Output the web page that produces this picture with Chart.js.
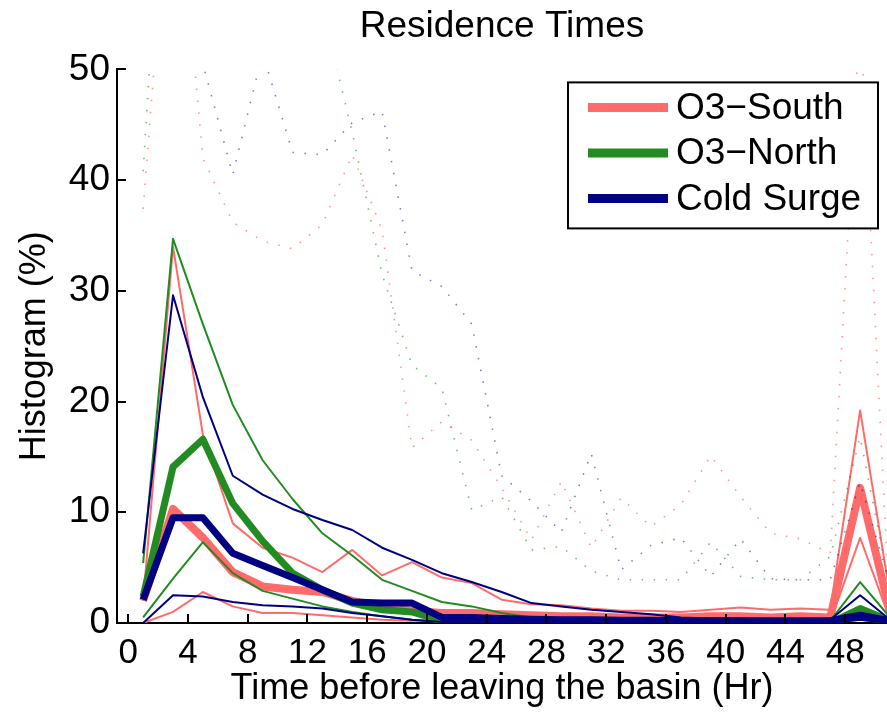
<!DOCTYPE html>
<html>
<head>
<meta charset="utf-8">
<title>Residence Times</title>
<script src="https://cdn.jsdelivr.net/npm/chart.js@4.4.0/dist/chart.umd.min.js"></script>
<style>
  html, body { margin: 0; padding: 0; background: #fff; }
  #wrap { width: 887px; height: 712px; }
</style>
</head>
<body>
<div id="wrap"><canvas id="chart" width="887" height="712"></canvas></div>
<script>
// bin centres (hours before leaving the basin)
const hours = [1, 3, 5, 7, 9, 11, 13, 15, 17, 19, 21, 23, 25, 27, 29, 31, 33, 35, 37, 39, 41, 43, 45, 47, 49, 51];
const xTicks = [0, 4, 8, 12, 16, 20, 24, 28, 32, 36, 40, 44, 48];
const yTicks = [0, 10, 20, 30, 40, 50];
const groupNames = ['O3\u2212South', 'O3\u2212North', 'Cold Surge'];

// O3-South
const southMean = [2.0, 10.3, 7.7, 4.6, 3.3, 3.0, 2.8, 2.0, 1.5, 1.1, 0.9, 0.9, 0.8, 0.7, 0.6, 0.6, 0.5, 0.5, 0.5, 0.6, 0.6, 0.5, 0.6, 0.5, 12.2, 1.0];
const southHigh = [2.0, 34.0, 17.0, 9.0, 6.8, 5.9, 4.6, 6.6, 4.3, 5.5, 4.1, 3.6, 2.1, 1.7, 1.6, 1.3, 1.1, 1.1, 1.0, 1.2, 1.4, 1.2, 1.3, 1.2, 19.2, 2.5];
const southLow = [0.0, 1.0, 2.8, 1.5, 0.9, 0.9, 0.7, 0.5, 0.3, 0.2, 0.2, 0.1, 0.1, 0.1, 0.1, 0.1, 0.1, 0.1, 0.1, 0.1, 0.1, 0.1, 0.1, 0.1, 7.7, 0.3];
const southMax = [37.4, 72, 42, 36.2, 34.5, 33.8, 36, 42.3, 35.5, 15.8, 18.2, 16.5, 12.2, 7.5, 12.8, 6.8, 11.3, 8.7, 10.7, 15.1, 11.4, 8.1, 7.6, 6.3, 55, 0];

// O3-North
const northMean = [2.4, 14.1, 16.6, 10.8, 7.4, 4.5, 3.0, 1.8, 1.2, 1.0, 0.2, 0.1, 0.1, 0.05, 0.05, 0.05, 0, 0, 0, 0, 0, 0, 0, 0, 1.3, 0.2];
const northHigh = [5.4, 34.7, 27.0, 19.7, 14.7, 11.2, 8.1, 6.1, 3.9, 2.9, 1.9, 1.5, 0.9, 0.5, 0.4, 0.3, 0.3, 0.3, 0.2, 0.2, 0.2, 0.2, 0.2, 0.2, 3.7, 0.5];
const northLow = [0.5, 4.0, 7.3, 4.5, 2.9, 2.2, 1.5, 1.0, 0.6, 0.3, 0.1, 0.05, 0, 0, 0, 0, 0, 0, 0, 0, 0, 0, 0, 0, 0.3, 0];
const northMax = [40.8, 85, 80, 72, 66, 62, 55.5, 44.3, 31.5, 23.3, 21.2, 10.2, 11.4, 6.6, 6.9, 4.7, 3.9, 3.9, 3.9, 7.3, 4.2, 3.9, 3.9, 6.0, 16.8, 3.0];

// Cold Surge
const coldMean = [2.1, 9.5, 9.5, 6.3, 5.2, 4.1, 3.0, 1.9, 1.8, 1.8, 0.5, 0.5, 0.4, 0.35, 0.3, 0.3, 0.25, 0.25, 0.2, 0.2, 0.2, 0.2, 0.2, 0.2, 0.7, 0.2];
const coldHigh = [6.3, 29.6, 20.4, 13.3, 11.6, 10.3, 9.3, 8.4, 6.8, 5.7, 4.5, 3.7, 2.8, 1.8, 1.5, 1.2, 1.0, 0.8, 0.5, 0.4, 0.4, 0.3, 0.3, 0.3, 2.5, 0.3];
const coldLow = [0.0, 2.5, 2.4, 1.9, 1.6, 1.5, 1.3, 0.9, 0.6, 0.3, 0.1, 0.1, 0.05, 0, 0, 0, 0, 0, 0, 0, 0, 0, 0, 0, 0.3, 0];
const coldMax = [60, 90, 50.5, 40.5, 51.5, 42.5, 42.3, 45.2, 46.2, 31.8, 30.4, 27, 13.3, 11.0, 8.2, 15.3, 4.8, 7.0, 7.7, 4.2, 7.6, 4.0, 3.9, 3.9, 12.7, 3.5];

const colors = ['#ff6b6b', '#228b22', '#000080'];
const dotColors = ['rgba(255,90,90,0.65)', 'rgba(34,139,34,0.6)', 'rgba(0,0,128,0.5)'];
const thickWidths = [8, 7, 7];
const FONT = '"Liberation Sans", Arial, Helvetica, sans-serif';

// one line dataset; kind: 'dot' | 'thin' | 'thick'
function line(values, g, kind) {
  return {
    label: groupNames[g] + ' ' + kind,
    data: hours.map((h, i) => ({ x: h, y: values[i] })),
    borderColor: kind === 'dot' ? dotColors[g] : colors[g],
    borderWidth: kind === 'thick' ? thickWidths[g] : (kind === 'thin' ? 2 : 1.6),
    borderDash: kind === 'dot' ? [1.5, 10.5] : [],
    borderJoinStyle: 'round',
    pointRadius: 0,
    tension: 0,
    fill: false,
    clip: 0
  };
}

// listed bottom -> top
const drawList = [
  line(southMax, 0, 'dot'), line(southHigh, 0, 'thin'), line(southLow, 0, 'thin'), line(southMean, 0, 'thick'),
  line(northMax, 1, 'dot'), line(northHigh, 1, 'thin'), line(northLow, 1, 'thin'), line(northMean, 1, 'thick'),
  line(coldMax, 2, 'dot'), line(coldHigh, 2, 'thin'), line(coldLow, 2, 'thin'), line(coldMean, 2, 'thick')
];
drawList.forEach((d, i) => { d.order = drawList.length - i; });

// MATLAB style ticks pointing into the axes
const inwardTicks = {
  id: 'inwardTicks',
  afterDatasetsDraw(chart) {
    const { ctx, chartArea: a, scales: { x, y } } = chart;
    ctx.save();
    ctx.strokeStyle = '#000';
    ctx.lineWidth = 2;
    ctx.beginPath();
    xTicks.forEach(v => {
      const px = Math.round(x.getPixelForValue(v));
      ctx.moveTo(px, a.bottom); ctx.lineTo(px, a.bottom - 9);
    });
    yTicks.forEach(v => {
      const py = Math.round(y.getPixelForValue(v));
      ctx.moveTo(a.left, py); ctx.lineTo(a.left + 9, py);
    });
    ctx.stroke();
    ctx.restore();
  }
};

// boxed legend in the upper right corner of the axes
const boxLegend = {
  id: 'boxLegend',
  afterDraw(chart) {
    const { ctx, chartArea: a } = chart;
    const w = 310, h = 146;
    const bx = a.right - 9 - w, by = a.top + 13;
    ctx.save();
    ctx.fillStyle = '#fff';
    ctx.fillRect(bx, by, w, h);
    ctx.strokeStyle = '#000';
    ctx.lineWidth = 2;
    ctx.strokeRect(bx, by, w, h);
    ctx.font = '37px ' + FONT;
    ctx.textBaseline = 'middle';
    ctx.fillStyle = '#000';
    groupNames.forEach((name, i) => {
      const cy = by + 25 + i * 45.5;
      ctx.strokeStyle = colors[i];
      ctx.lineWidth = 9;
      ctx.beginPath();
      ctx.moveTo(bx + 20, cy); ctx.lineTo(bx + 100, cy);
      ctx.stroke();
      ctx.fillText(name, bx + 108, cy + 1);
    });
    ctx.restore();
  }
};

new Chart(document.getElementById('chart'), {
  type: 'line',
  data: { datasets: drawList },
  options: {
    responsive: false,
    animation: false,
    devicePixelRatio: 1,
    layout: { padding: 0 },
    plugins: {
      legend: { display: false },
      tooltip: { enabled: false },
      title: {
        display: true,
        text: 'Residence Times',
        fullSize: false,
        color: '#000',
        font: { size: 37, family: FONT, weight: 'normal' },
        padding: { top: 5, bottom: 20 }
      }
    },
    scales: {
      x: {
        type: 'linear',
        min: -0.75,
        max: 50.8,
        afterBuildTicks: s => { s.ticks = xTicks.map(v => ({ value: v })); },
        afterFit: s => { s.height = 89; },
        grid: { display: false, drawTicks: false },
        border: { display: true, color: '#000', width: 2 },
        ticks: { color: '#000', font: { size: 35, family: FONT }, padding: 9, maxRotation: 0, autoSkip: false },
        title: {
          display: true,
          text: 'Time before leaving the basin (Hr)',
          color: '#000',
          font: { size: 36, family: FONT },
          padding: { top: 0, bottom: 1 }
        }
      },
      y: {
        type: 'linear',
        min: 0,
        max: 50,
        afterBuildTicks: s => { s.ticks = yTicks.map(v => ({ value: v })); },
        afterFit: s => { s.width = 117; },
        grid: { display: false, drawTicks: false },
        border: { display: true, color: '#000', width: 2 },
        ticks: { color: '#000', font: { size: 37, family: FONT }, padding: 7 },
        title: {
          display: true,
          text: 'Histogram (%)',
          color: '#000',
          font: { size: 36, family: FONT },
          padding: { top: 13, bottom: 0 }
        }
      }
    }
  },
  plugins: [inwardTicks, boxLegend]
});
</script>
</body>
</html>
